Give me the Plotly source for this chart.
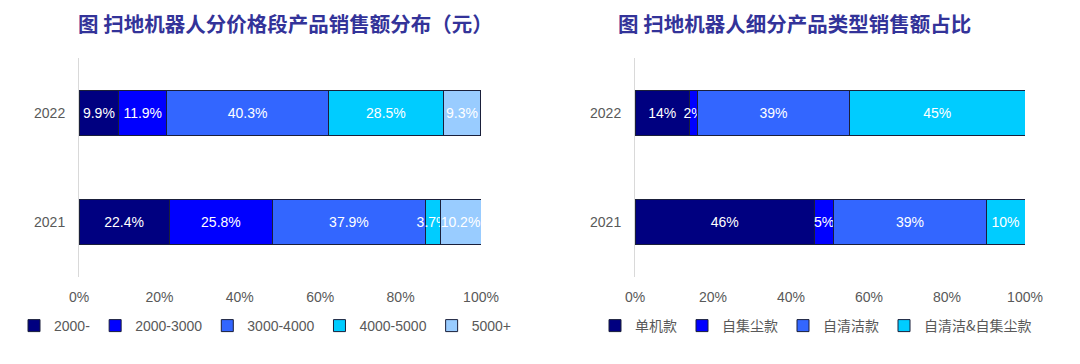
import plotly.graph_objects as go

years = ["2021", "2022"]

price_bands = ["2000-", "2000-3000", "3000-4000", "4000-5000", "5000+"]
price_2021 = [22.4, 25.8, 37.9, 3.7, 10.2]
price_2022 = [9.9, 11.9, 40.3, 28.5, 9.3]

types = ["单机款", "自集尘款", "自清洁款", "自清洁&自集尘款"]
type_2021 = [46, 5, 39, 10]
type_2022 = [14, 2, 39, 45]

colors = ["#000080", "#0000FF", "#3366FF", "#00CCFF", "#99CCFF"]

title_left = "图 扫地机器人分价格段产品销售额分布（元）"
title_right = "图 扫地机器人细分产品类型销售额占比"
x_ticks = [0, 20, 40, 60, 80, 100]

LATIN = "Liberation Sans, Arial, sans-serif"
CJK = "Noto Sans CJK SC, sans-serif"
GRAY = "#595959"

fig = go.Figure()

for i, name in enumerate(price_bands):
    vals = [price_2021[i], price_2022[i]]
    fig.add_trace(go.Bar(
        y=years, x=vals, name=name, orientation="h",
        marker=dict(color=colors[i], line=dict(color="#1a1f3a", width=1)),
        text=[f"{v:.1f}%" for v in vals], textposition="inside",
        insidetextanchor="middle", constraintext="none", textangle=0,
        insidetextfont=dict(color="white", size=14, family=LATIN),
        xaxis="x", yaxis="y", legend="legend", cliponaxis=False,
    ))

for i, name in enumerate(types):
    vals = [type_2021[i], type_2022[i]]
    fig.add_trace(go.Bar(
        y=years, x=vals, name=name, orientation="h",
        marker=dict(color=colors[i], line=dict(color="#1a1f3a", width=1)),
        text=[f"{v:.0f}%" for v in vals], textposition="inside",
        insidetextanchor="middle", constraintext="none", textangle=0,
        insidetextfont=dict(color="white", size=14, family=LATIN),
        xaxis="x2", yaxis="y2", legend="legend2", cliponaxis=False,
    ))

# page body has an 8px margin, so the figure is offset by 8px
OFF = 8
W, H = 1080 - OFF, 364 - OFF
def px(x):
    return (x - OFF) / W
def py(y):
    return 1 - (y - OFF) / H

xcommon = dict(range=[0, 100], tickvals=x_ticks, ticktext=[f"{t}%" for t in x_ticks],
               showgrid=False, zeroline=False, showline=False, ticks="",
               tickfont=dict(color=GRAY, size=14, family=LATIN), ticklabelstandoff=10,
               fixedrange=True, automargin=False)
ycommon = dict(categoryorder="array", categoryarray=years, showgrid=False,
               showline=True, linecolor="#d9d9d9", linewidth=1, ticks="",
               tickfont=dict(color=GRAY, size=14, family=LATIN), ticklabelstandoff=10,
               fixedrange=True, automargin=False)

fig.update_layout(
    width=W, height=H,
    margin=dict(l=0, r=0, t=0, b=0, autoexpand=False),
    paper_bgcolor="white", plot_bgcolor="white",
    barmode="stack", bargap=0.59,
    showlegend=True,
    xaxis=dict(domain=[px(79), px(481)], anchor="y", **xcommon),
    yaxis=dict(domain=[py(277), py(58)], anchor="x", **ycommon),
    xaxis2=dict(domain=[px(635), px(1025)], anchor="y2", **xcommon),
    yaxis2=dict(domain=[py(277), py(58)], anchor="x2", **ycommon),
    legend=dict(orientation="h", x=px(14), y=py(326), xanchor="left", yanchor="middle",
                font=dict(color=GRAY, size=14, family=LATIN), itemwidth=30,
                bgcolor="rgba(0,0,0,0)", traceorder="normal"),
    legend2=dict(orientation="h", x=px(595), y=py(326), xanchor="left", yanchor="middle",
                 font=dict(color=GRAY, size=14, family=CJK), itemwidth=30,
                 bgcolor="rgba(0,0,0,0)", traceorder="normal"),
    annotations=[
        dict(text=title_left, x=px(285), y=py(23), xref="paper", yref="paper",
             showarrow=False, xanchor="center", yanchor="middle",
             font=dict(size=20.5, color="#333399", family=CJK, weight=700)),
        dict(text=title_right, x=px(794), y=py(23), xref="paper", yref="paper",
             showarrow=False, xanchor="center", yanchor="middle",
             font=dict(size=20.5, color="#333399", family=CJK, weight=700)),
    ],
)

fig.write_html("out.html")
